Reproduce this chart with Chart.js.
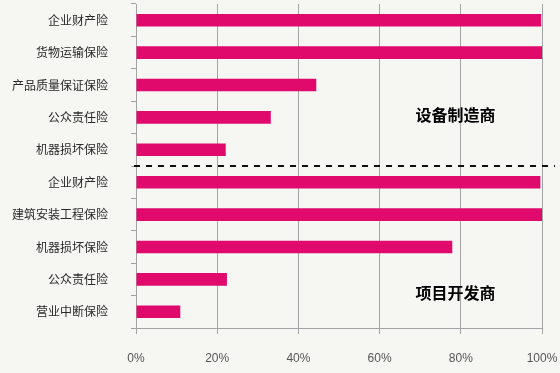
<!DOCTYPE html>
<html>
<head>
<meta charset="utf-8">
<script src="https://cdn.jsdelivr.net/npm/chart.js@4/dist/chart.umd.min.js"></script>
<style>
  html, body { margin:0; padding:0; background:#f6f6f3; }
  #wrap { position:relative; width:560px; height:373px; }
</style>
</head>
<body>
<div id="wrap"><canvas id="c"></canvas></div>
<script>
  // categories, top to bottom
  const categories = ['企业财产险','货物运输保险','产品质量保证保险','公众责任险','机器损坏保险',
                      '企业财产险','建筑安装工程保险','机器损坏保险','公众责任险','营业中断保险'];
  // share (%)
  const shares = [99.8, 100, 44.4, 33.2, 22.1, 99.6, 100, 77.9, 22.4, 10.9];
  const xTicks = [0, 20, 40, 60, 80, 100];
  const groupLabels = ['设备制造商','项目开发商'];

  const overlay = {
    id: 'overlay',
    afterDatasetsDraw(chart){
      const {ctx, scales:{x, y}} = chart;
      // dashed divider between the two groups
      const yd = (y.getPixelForValue(4) + y.getPixelForValue(5)) / 2;
      ctx.save();
      ctx.strokeStyle = '#111';
      ctx.lineWidth = 2;
      ctx.setLineDash([6, 6]);
      ctx.beginPath();
      ctx.moveTo(x.left - 2, yd);
      ctx.lineTo(chart.width - 5, yd);
      ctx.stroke();
      ctx.setLineDash([]);
      // group names
      ctx.fillStyle = '#000';
      ctx.font = 'bold 16px "Noto Sans CJK SC", sans-serif';
      ctx.textAlign = 'center';
      ctx.textBaseline = 'middle';
      ctx.fillText(groupLabels[0], x.getPixelForValue(78.7), y.getPixelForValue(2.93));
      ctx.fillText(groupLabels[1], x.getPixelForValue(78.7), y.getPixelForValue(8.42));
      ctx.restore();
    }
  };

  new Chart(document.getElementById('c'), {
    type: 'bar',
    data: {
      labels: categories,
      datasets: [{ data: shares, backgroundColor: '#df0a6c', borderWidth: 0,
                   barPercentage: 0.39, categoryPercentage: 1 }]
    },
    options: {
      indexAxis: 'y',
      responsive: true,
      maintainAspectRatio: false,
      animation: false,
      layout: { padding: { top: 4, right: 18, left: 0, bottom: 0 } },
      plugins: { legend: { display: false }, tooltip: { enabled: false } },
      scales: {
        x: {
          min: 0, max: 100,
          afterBuildTicks: s => { s.ticks = xTicks.map(v => ({ value: v })); },
          afterFit: s => { s.height = 45; s.paddingLeft = 0; s.paddingRight = 0; },
          grid: { color: '#a3a3a3', lineWidth: 1, tickLength: 6 },
          border: { color: '#a3a3a3' },
          ticks: { padding: 17, color: '#555', font: { family: '"Liberation Sans", Arial, sans-serif', size: 12 },
                   callback: v => v + '%' }
        },
        y: {
          afterFit: s => { s.width = 136; s.paddingTop = 0; s.paddingBottom = 0; },
          grid: { drawOnChartArea: false, color: '#a3a3a3', tickLength: 5, offset: true },
          border: { color: '#a3a3a3' },
          ticks: { padding: 23, color: '#2a2a2a', font: { family: '"Noto Sans CJK SC", sans-serif', size: 12 } }
        }
      }
    },
    plugins: [overlay]
  });
</script>
</body>
</html>
